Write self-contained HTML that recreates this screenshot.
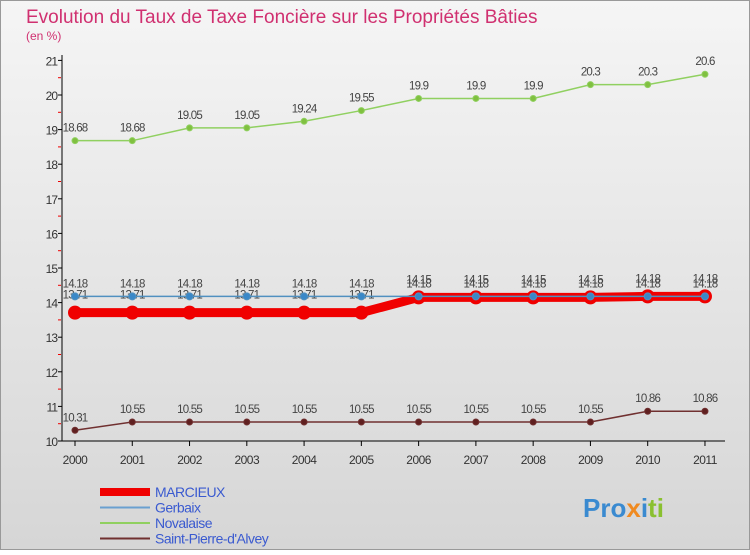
<!DOCTYPE html>
<html><head><meta charset="utf-8"><style>
body{margin:0;width:750px;height:550px;overflow:hidden;font-family:"Liberation Sans",sans-serif}
</style></head><body>
<svg id="chart" width="750" height="550" xmlns="http://www.w3.org/2000/svg" style="font-family:'Liberation Sans',sans-serif">
<defs><linearGradient id="bg" x1="0" y1="0" x2="0" y2="1"><stop offset="0" stop-color="#f5f5f5"/><stop offset="1" stop-color="#d6d6d6"/></linearGradient></defs>
<rect x="0.5" y="0.5" width="749" height="549" fill="url(#bg)" stroke="#999"/>
<text x="26" y="23" font-size="19" fill="#d03070">Evolution du Taux de Taxe Foncière sur les Propriétés Bâties</text>
<text x="26" y="40" font-size="12" fill="#d03070">(en %)</text>
<g id="axes"></g><g id="series"></g><g id="legend"></g>
<text x="583" y="517" font-size="26" font-weight="bold" fill="#3a8ad0">Pro<tspan fill="#f08a20">x</tspan><tspan fill="#3a8ad0">i</tspan><tspan fill="#8ac030">ti</tspan></text>
</svg>
<script>
const years=[2000,2001,2002,2003,2004,2005,2006,2007,2008,2009,2010,2011];
const yTicks=[10,11,12,13,14,15,16,17,18,19,20,21];
const marcieux=[13.71,13.71,13.71,13.71,13.71,13.71,14.15,14.15,14.15,14.15,14.18,14.18];
const gerbaix=[14.18,14.18,14.18,14.18,14.18,14.18,14.18,14.18,14.18,14.18,14.18,14.18];
const novalaise=[18.68,18.68,19.05,19.05,19.24,19.55,19.9,19.9,19.9,20.3,20.3,20.6];
const stpierre=[10.31,10.55,10.55,10.55,10.55,10.55,10.55,10.55,10.55,10.55,10.86,10.86];
const seriesNames=["MARCIEUX","Gerbaix","Novalaise","Saint-Pierre-d'Alvey"];
const NS="http://www.w3.org/2000/svg";
const X=i=>75+i*57.27, Y=v=>441-(v-10)*34.6;
function mk(tag,attrs,parent,txt){const e=document.createElementNS(NS,tag);for(const k in attrs)e.setAttribute(k,attrs[k]);if(txt!==undefined)e.textContent=txt;parent.appendChild(e);return e;}
const ax=document.getElementById('axes');
let l=mk('line',{x1:62,y1:55,x2:62,y2:441,stroke:'#000'},ax);


l=mk('line',{x1:62,y1:441,x2:725,y2:441,stroke:'#000'},ax);


yTicks.forEach(v=>{
  mk('line',{x1:58,y1:Y(v),x2:62,y2:Y(v),stroke:'#000'},ax);
  if(v<21)mk('line',{x1:58,y1:Y(v+0.5),x2:61,y2:Y(v+0.5),stroke:'#e00'},ax);
  const t=mk('text',{x:57,y:Y(v)+5,'font-size':12,fill:'#333','text-anchor':'end','letter-spacing':'-1'},ax,v);
  
  
});
years.forEach((y,i)=>{
  mk('line',{x1:X(i),y1:441,x2:X(i),y2:446,stroke:'#000'},ax);
  const t=mk('text',{x:X(i),y:464,'font-size':12,fill:'#333','text-anchor':'middle','letter-spacing':'-0.5'},ax,y);
  
  
});
const sg=document.getElementById('series');
function draw(vals,color,w,r,fill,name,labOff){
  const g=mk('g',{},sg);
  
  
  mk('polyline',{points:vals.map((v,i)=>X(i)+','+Y(v)).join(' '),fill:'none',stroke:color,'stroke-width':w},g);
  vals.forEach((v,i)=>{
    const c=mk('circle',{cx:X(i),cy:Y(v),r:r,fill:fill,stroke:color,'stroke-width':1},g);
    
    
    const t=mk('text',{x:X(i),y:Y(v)-labOff,'font-size':11.5,fill:'#444','text-anchor':'middle','letter-spacing':'-0.8'},g,v);
    
    
  });
}
draw(novalaise,'#90d060',1.5,3,'#80c040','novalaise',9);
draw(stpierre,'#703030',1.5,3,'#602020','saint-pierre',9);
draw(marcieux,'#f00000',9,6.5,'#f00000','marcieux',14);
draw(gerbaix,'#5090c0',1.5,3.5,'#3a88c8','gerbaix',9);
const lg=document.getElementById('legend');
const lc=[['#f00000',8],['#6aa0d0',2],['#90d060',2],['#703030',2]];
seriesNames.forEach((n,i)=>{
  const y=492+i*15.5;
  const g=mk('g',{},lg);
  
  
  mk('line',{x1:100,y1:y,x2:150,y2:y,stroke:lc[i][0],'stroke-width':lc[i][1]},g);
  mk('text',{x:155,y:y+5,'font-size':14,fill:'#3a5ad0','letter-spacing':'-0.5'},g,n);
});
</script>
</body></html>
